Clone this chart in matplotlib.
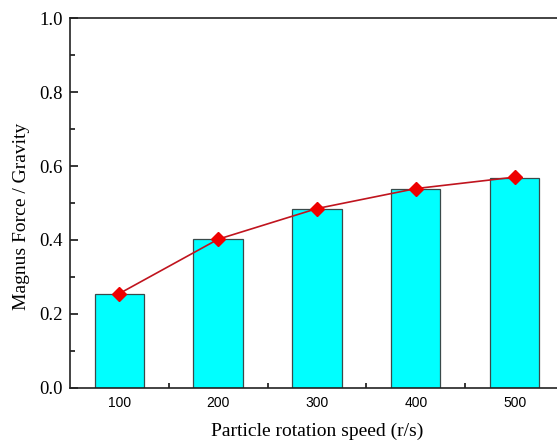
import matplotlib
matplotlib.use("Agg")
import matplotlib.pyplot as plt
from matplotlib.ticker import MultipleLocator

# Magnus force / gravity ratio vs particle rotation speed
speeds = [100, 200, 300, 400, 500]
bar_ratio = [0.255, 0.402, 0.485, 0.537, 0.568]
line_ratio = [0.255, 0.402, 0.485, 0.539, 0.570]

_BAR_COLOR = "#00ffff"
_LINE_COLOR = "#c0141e"
_MARKER_COLOR = "#ee0000"

fig = plt.figure(figsize=(5.57, 4.41), dpi=100)
# right edge of the frame falls outside the canvas, like the reference
ax = fig.add_axes([70 / 557, 1 - 387.7 / 441, 494 / 557, 369.4 / 441])

ax.bar(speeds, bar_ratio, width=50, color=_BAR_COLOR,
       edgecolor="#3a4a4a", linewidth=0.9, zorder=2)
ax.plot(speeds, line_ratio, color=_LINE_COLOR, linewidth=1.2, zorder=3)
ax.plot(speeds, line_ratio, linestyle="none", marker="D", markersize=7,
        color=_MARKER_COLOR, zorder=4)

ax.set_xlim(50, 550)
ax.set_ylim(0, 1.0)
ax.set_xticks(speeds)
ax.set_xticks([150, 250, 350, 450], minor=True)
ax.yaxis.set_minor_locator(MultipleLocator(0.1))
ax.tick_params(which="both", direction="in", width=1.1, top=False, right=False)
ax.tick_params(which="major", length=6)
ax.tick_params(which="minor", length=3.5)

for lab in ax.get_xticklabels():
    lab.set_fontfamily("Liberation Sans")
    lab.set_fontsize(10)
ax.set_yticks([0, 0.2, 0.4, 0.6, 0.8, 1.0])
ax.set_yticklabels(["0.0", "0.2", "0.4", "0.6", "0.8", "1.0"],
                   fontfamily="Liberation Serif", fontsize=13.5)
ax.tick_params(axis="x", pad=6)
ax.tick_params(axis="y", pad=5)

ax.set_xlabel("Particle rotation speed (r/s)", fontfamily="Liberation Serif",
              fontsize=14, labelpad=9)
ax.set_ylabel("Magnus Force / Gravity", fontfamily="Liberation Serif",
              fontsize=14)
ax.yaxis.set_label_coords(-0.08, 0.465)

for side in ("left", "bottom", "top", "right"):
    ax.spines[side].set_linewidth(1.2)
    ax.spines[side].set_color("#222222")

fig.savefig("out.png", dpi=100)
